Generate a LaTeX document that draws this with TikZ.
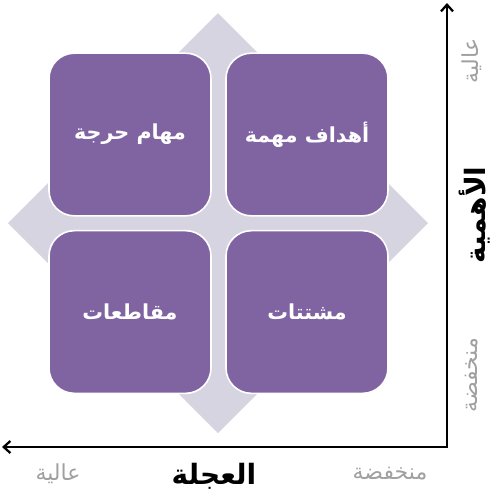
\documentclass[tikz,border=0pt]{standalone}
\usepackage{fontspec}
\usepackage{tikz}
\usetikzlibrary{arrows.meta}
\TeXXeTstate=1
\newfontfamily\arabicfont[Script=Arabic]{DejaVu Sans}
\definecolor{quadpurple}{RGB}{128,100,162}
\definecolor{diamondgrey}{RGB}{214,212,224}
\definecolor{lowgrey}{RGB}{160,160,160}
\tikzset{
  quadbox/.style={draw=white,line width=1.2pt,fill=quadpurple,rounded corners=19pt,
    minimum width=121.5pt,minimum height=122pt,inner sep=0pt,
    text=white,font=\arabicfont\bfseries\fontsize{15.5}{18}\selectfont},
  axisline/.style={line width=1.7pt,{Straight Barb[length=5pt,width=9pt]}-{Straight Barb[length=5pt,width=9pt]}},
  axistitle/.style={inner sep=0.75pt,font=\arabicfont\bfseries\fontsize{21}{24}\selectfont},
  levellabel/.style={inner sep=0.75pt,text=lowgrey,font=\arabicfont\fontsize{16.5}{19}\selectfont}
}
\begin{document}
\begin{tikzpicture}[x=0.75pt,y=0.75pt,yscale=-1,xscale=1]
\useasboundingbox (0,0) rectangle (500,494);

%Shape: Diamond
\fill [diamondgrey] (218,13) -- (428,223) -- (218,433) -- (8,223) -- cycle ;

%Shape: Rounded Rectangles
\node [quadbox] (critical) at (130,134.5) {\beginR مهام حرجة\endR};
\node [quadbox] (important) at (307,134.5) {\beginR أهداف مهمة\endR};
\node [quadbox] (interrupt) at (130,312) {\beginR مقاطعات\endR};
\node [quadbox] (distract) at (307,312) {\beginR مشتتات\endR};

%Straight Lines: axes
\coordinate (origin) at (447,447);
\coordinate (urgend) at (2,447);
\coordinate (impend) at (447,3);
\draw [axisline] (urgend) -- (origin) -- (impend) ;

% Text Node
\node [axistitle] (urgency) at (214,476) {\beginR العجلة\endR};
% Text Node
\node [levellabel] (urghigh) at (58,474) {\beginR عالية\endR};
% Text Node
\node [levellabel] (urglow) at (390,474) {\beginR منخفضة\endR};
% Text Node
\node [axistitle,rotate=90] (importance) at (475,215) {\beginR الأهمية\endR};
% Text Node
\node [levellabel,rotate=90] (imphigh) at (472,61) {\beginR عالية\endR};
% Text Node
\node [levellabel,rotate=90] (implow) at (472,375) {\beginR منخفضة\endR};

\end{tikzpicture}
\end{document}
